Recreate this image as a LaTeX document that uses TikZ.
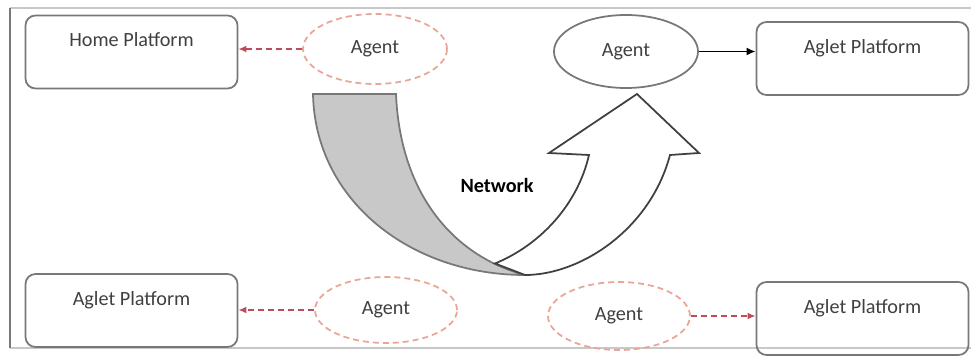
\documentclass[tikz,border=0pt]{standalone}
\usepackage{fontspec}
\setmainfont{Carlito}
\usetikzlibrary{arrows.meta,shapes.geometric}
\definecolor{boxgray}{RGB}{120,120,120}
\definecolor{framegray}{RGB}{200,200,200}
\definecolor{agentorange}{RGB}{235,165,150}
\definecolor{movered}{RGB}{190,75,90}
\definecolor{bandgray}{RGB}{200,200,200}
\definecolor{txtgray}{RGB}{64,64,64}
\begin{document}
\begin{tikzpicture}[
	platform/.style={draw=boxgray, line width=1pt, rounded corners=0.2cm, minimum width=4.24cm, minimum height=1.46cm, text height=0.35cm, text depth=0.55cm, text=txtgray, font=\fontsize{11.5}{14}\selectfont},
	agent/.style={ellipse, minimum width=2.88cm, minimum height=1.4cm, inner sep=0pt, text=txtgray, font=\fontsize{11.5}{14}\selectfont},
	agentmoving/.style={agent, draw=agentorange, line width=1pt, dash pattern=on 0.12cm off 0.08cm},
	agentfixed/.style={agent, draw=boxgray, line width=1pt},
	moveline/.style={draw=movered, line width=1pt, dash pattern=on 0.12cm off 0.08cm, -{Latex[length=0.16cm,width=0.14cm]}}
]
\useasboundingbox (0,0) rectangle (19.42,-7.16);
%----------------------------------------------------------
	% Frame
	%------------------------------------------------------
	\draw[framegray, line width=0.8pt] (19.42,-0.16) -- (0.2,-0.16);
	\draw[framegray, line width=0.8pt] (0.2,-6.96) -- (19.42,-6.96);
	\draw[boxgray, line width=1pt] (0.2,-0.16) -- (0.2,-6.96);

	%Platforms
	%------------------------------------------------------
	\node[platform] (home) at (2.63,-1.04) {Home Platform};
	\node[platform] (agletTR) at (17.25,-1.17) {Aglet Platform};
	\node[platform] (agletBL) at (2.63,-6.21) {Aglet Platform};
	\node[platform] (agletBR) at (17.25,-6.37) {Aglet Platform};

	%Agents
	%------------------------------------------------------
	\node[agentmoving] (agentTL) at (7.5,-0.98) {Agent};
	\node[agentfixed, minimum height=1.46cm] (agentTR) at (12.52,-1.03) {Agent};
	\node[agentmoving, minimum width=2.84cm, minimum height=1.32cm] (agentBL) at (7.72,-6.2) {Agent};
	\node[agentmoving, minimum width=2.84cm, minimum height=1.36cm] (agentBR) at (12.38,-6.32) {Agent};

	%Network
	%------------------------------------------------------
	\coordinate (B) at (10.5,-5.5);
	\coordinate (C) at (9.9,-5.27);
	\draw[boxgray, line width=1pt, fill=bandgray] (6.26,-1.88) -- (7.92,-1.88) .. controls (8.0,-3.8) and (9.0,-5.1) .. (B) .. controls (8.2,-5.5) and (6.3,-4.0) .. (6.26,-1.88) -- cycle;
	\draw[black!75, line width=1pt, fill=white] (B) .. controls (11.6,-5.5) and (13.0,-4.6) .. (13.4,-3.1) -- (13.98,-3.06) -- (12.74,-1.88) -- (10.98,-3.06) -- (11.78,-3.1) .. controls (11.55,-4.1) and (10.8,-4.9) .. (C) -- cycle;
	\node[font=\fontsize{11.5}{14}\selectfont\bfseries] (net) at (9.94,-3.7) {Network};

	%Moves
	%------------------------------------------------------
	\draw[moveline] (agentTL.west) -- (agentTL.west -| home.east);
	\draw[line width=1pt, -{Latex[length=0.18cm,width=0.16cm]}] (agentTR.east) -- (agentTR.east -| agletTR.west);
	\draw[moveline] (agentBL.west) -- (agentBL.west -| agletBL.east);
	\draw[moveline] (agentBR.east) -- (agentBR.east -| agletBR.west);

\end{tikzpicture}
\end{document}
